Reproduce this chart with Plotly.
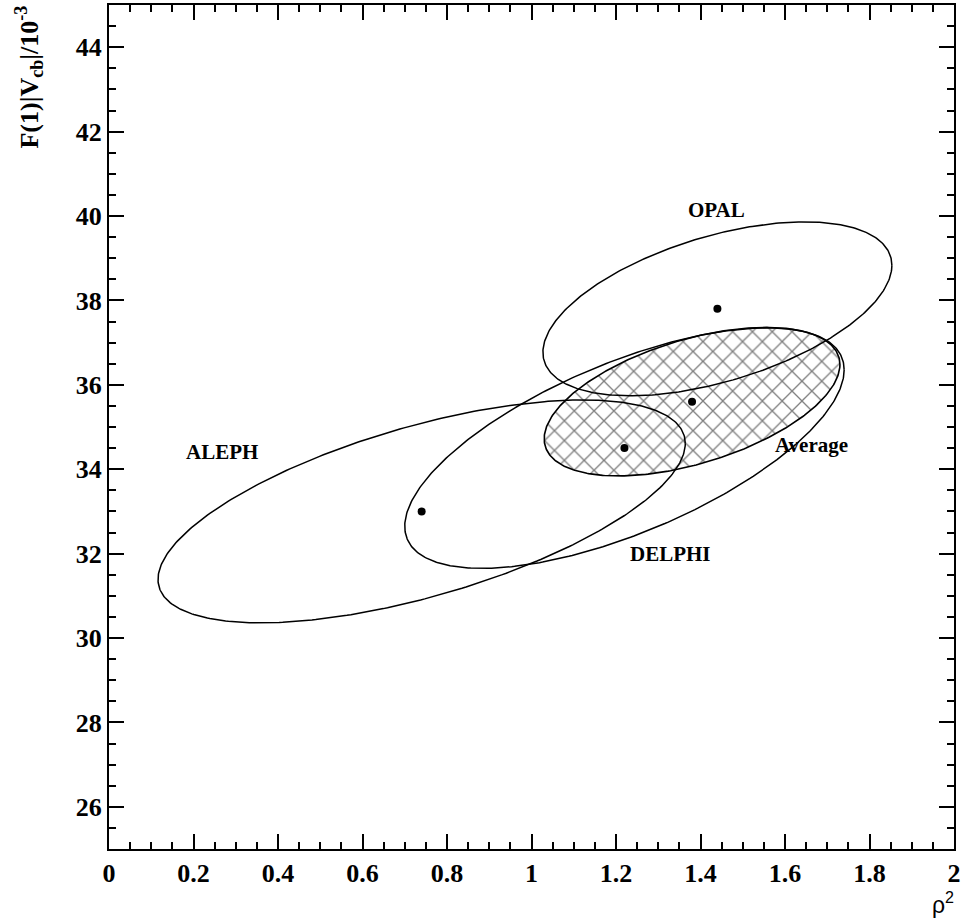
import numpy as np
import plotly.graph_objects as go

# ---- data ----
experiments = ["ALEPH", "DELPHI", "OPAL", "Average"]
rho2_central = [0.74, 1.22, 1.44, 1.38]
fvcb_central = [33.0, 34.5, 37.8, 35.6]
rho2_sigma = [0.624, 0.52, 0.413, 0.35]
fvcb_sigma = [2.64, 2.85, 2.06, 1.76]
correlation = [0.61, 0.65, 0.50, 0.50]

x_ticks = [0, 0.2, 0.4, 0.6, 0.8, 1, 1.2, 1.4, 1.6, 1.8, 2]
y_ticks = [26, 28, 30, 32, 34, 36, 38, 40, 42, 44]

# label placement (layout)
label_x = [0.267, 1.329, 1.437, 1.662]
label_y = [34.41, 32.0, 40.15, 34.57]

serif = "Liberation Serif"


def ellipse(cx, cy, sx, sy, r, n=400):
    t = np.linspace(0, 2 * np.pi, n)
    x = cx + sx * np.cos(t)
    y = cy + sy * (r * np.cos(t) + np.sqrt(1 - r * r) * np.sin(t))
    return x, y


fig = go.Figure()

# hatched average
i_avg = experiments.index("Average")
ax, ay = ellipse(rho2_central[i_avg], fvcb_central[i_avg], rho2_sigma[i_avg],
                 fvcb_sigma[i_avg], correlation[i_avg])
fig.add_trace(go.Scatter(
    x=ax, y=ay, mode="lines", fill="toself",
    fillcolor="rgba(0,0,0,0)",
    fillpattern=dict(shape="x", size=14, solidity=0.18, fgcolor="black",
                     bgcolor="rgba(0,0,0,0)", fillmode="overlay"),
    line=dict(color="black", width=1.6), hoverinfo="skip", showlegend=False))

for i, name in enumerate(experiments):
    if name == "Average":
        continue
    ex, ey = ellipse(rho2_central[i], fvcb_central[i], rho2_sigma[i],
                     fvcb_sigma[i], correlation[i])
    fig.add_trace(go.Scatter(x=ex, y=ey, mode="lines",
                             line=dict(color="black", width=1.5),
                             name=name, showlegend=False))

fig.add_trace(go.Scatter(x=rho2_central, y=fvcb_central, mode="markers",
                         marker=dict(color="black", size=8),
                         showlegend=False))

for i, name in enumerate(experiments):
    fig.add_annotation(x=label_x[i], y=label_y[i], text=f"<b>{name}</b>",
                       showarrow=False,
                       font=dict(family=serif, size=21, color="black"))

fig.add_annotation(xref="paper", yref="paper", x=-0.095, y=1.002,
                   xanchor="center", yanchor="top", textangle=-90,
                   text="<b>F(1)|V<sub>cb</sub>|/10<sup>-3</sup></b>",
                   showarrow=False,
                   font=dict(family=serif, size=26, color="black"))
fig.add_annotation(xref="paper", yref="paper", x=1.002, y=-0.064,
                   xanchor="right", yanchor="middle",
                   text="ρ<sup>2</sup>", showarrow=False,
                   font=dict(family="Liberation Sans", size=23, color="black"))

axis_common = dict(showline=True, linecolor="black", linewidth=2,
                   mirror="allticks", ticks="inside", ticklen=15,
                   tickwidth=1.5, tickcolor="black", showgrid=False,
                   zeroline=False,
                   tickfont=dict(family=serif, size=26, color="black"))

fig.update_xaxes(range=[0, 2], tickvals=x_ticks,
                 ticktext=[f"<b>{v:g}</b>" for v in x_ticks],
                 minor=dict(ticks="inside", ticklen=7, dtick=0.05,
                            tickwidth=1.5, tickcolor="black", showgrid=False),
                 **axis_common)
fig.update_yaxes(range=[25, 45], tickvals=y_ticks,
                 ticktext=[f"<b>{v}</b>" for v in y_ticks],
                 minor=dict(ticks="inside", ticklen=7, dtick=0.5,
                            tickwidth=1.5, tickcolor="black", showgrid=False),
                 **axis_common)

fig.update_layout(width=964, height=918,
                  margin=dict(l=109, r=8, t=3, b=69),
                  plot_bgcolor="white", paper_bgcolor="white")

fig.write_html("out.html", config={"displayModeBar": False},
               post_script="document.body.style.margin='0';"
                           "document.body.style.overflow='hidden';")
